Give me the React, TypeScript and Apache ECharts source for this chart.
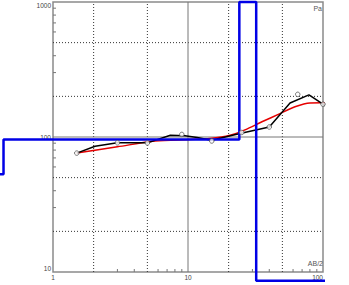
import React, { useEffect, useRef } from "react";
import * as echarts from "echarts";

// Measured apparent resistivity (circles)
const measuredAB = [1.5, 3, 5, 9, 15, 25, 40, 65, 100];
const measuredRho = [76, 90.5, 90.3, 104.5, 93.4, 108, 118.6, 207, 175];

// Field curve (black)
const fieldAB = [1.5, 2.05, 3, 5, 7.4, 9.5, 11.7, 14.9, 24.3, 40, 57, 78.7, 100, 109.5];
const fieldRho = [76, 85.3, 90.6, 90.5, 103, 102, 99, 94.5, 106, 118.6, 178.6, 205, 175, 165];

// Model curve (red)
const modelAB = [1.5, 3, 5.7, 10.35, 14.55, 20.5, 26.4, 35.3, 48, 62, 80.1, 97.9, 110.8];
const modelRho = [76, 84.6, 93.4, 95.8, 97.5, 103, 113, 129.6, 149, 167.4, 178.6, 179, 178.6];

// Layered model (blue)
const layerRho = [53, 96, 1000, 8.6];
const layerDepth = [0.43, 24, 32];
const layerStart = 0.405;
const layerEnd = 200;

// Grid / tick values
const xDotted = [2, 5, 20, 50];
const xSolid = [10];
const yDotted = [20, 50, 200, 500];
const ySolid = [100];
const xMinor = [3, 4, 6, 7, 8, 9, 30, 40, 60, 70, 80, 90];
const yMinor = [30, 40, 60, 70, 80, 90, 300, 400, 600, 700, 800, 900];

const X_MIN = 1, X_MAX = 100, Y_MIN = 10, Y_MAX = 1000;

export default function App() {
  const ref = useRef<HTMLDivElement>(null);
  useEffect(() => {
    if (!ref.current) return;
    const chart = echarts.init(ref.current, undefined, { renderer: "svg" });

    const pair = (xs: number[], ys: number[]) => xs.map((x, i) => [x, ys[i]]);
    const blue: number[][] = [];
    let x0 = layerStart;
    layerRho.forEach((r, i) => {
      const x1 = i < layerDepth.length ? layerDepth[i] : layerEnd;
      blue.push([x0, r]);
      blue.push([x1, r]);
      x0 = x1;
    });

    const font = "'Liberation Sans', Arial, sans-serif";
    const plotLeft = 53, plotRight = 26, plotTop = 2, plotBottom = 13;
    const plotW = 349 - plotLeft - plotRight;
    const decadePx = plotW / Math.log10(X_MAX / X_MIN);
    // hidden axis spanning the whole width left of the plot, same scale
    const extMin = X_MIN * Math.pow(10, -plotLeft / decadePx);

    const hiddenAxis = {
      axisLine: { show: false },
      axisTick: { show: false },
      splitLine: { show: false },
      axisLabel: { show: false },
    };

    chart.setOption({
      animation: false,
      grid: [
        {
          left: plotLeft,
          right: plotRight,
          top: plotTop,
          bottom: plotBottom,
          show: true,
          borderColor: "#8a8a8a",
          borderWidth: 1.5,
          backgroundColor: "transparent",
        },
        {
          left: 0,
          right: plotRight,
          top: plotTop,
          bottom: plotBottom,
        },
      ],
      xAxis: [
        {
          type: "log",
          gridIndex: 0,
          logBase: 10,
          min: X_MIN,
          max: X_MAX,
          axisLine: { show: false },
          axisTick: { show: false },
          splitLine: { show: false },
          axisLabel: {
            fontSize: 6.5,
            color: "#444",
            margin: 2,
            fontFamily: font,
            alignMaxLabel: "right",
            formatter: (v: number) => String(v),
          },
        },
        { type: "log", gridIndex: 1, logBase: 10, min: extMin, max: X_MAX, ...hiddenAxis },
      ],
      yAxis: [
        {
          type: "log",
          gridIndex: 0,
          logBase: 10,
          min: Y_MIN,
          max: Y_MAX,
          axisLine: { show: false },
          axisTick: { show: false },
          splitLine: { show: false },
          axisLabel: {
            fontSize: 6.5,
            color: "#444",
            margin: 2,
            fontFamily: font,
            verticalAlignMaxLabel: "top",
            verticalAlignMinLabel: "bottom",
            formatter: (v: number) => String(v),
          },
        },
        { type: "log", gridIndex: 1, logBase: 10, min: Y_MIN, max: Y_MAX, ...hiddenAxis },
      ],
      graphic: [
        {
          type: "text",
          right: 27,
          top: 4.5,
          style: { text: "Pa", fontSize: 7, fill: "#555", fontFamily: font },
        },
        {
          type: "text",
          right: 26,
          top: 259.5,
          style: { text: "AB/2", fontSize: 7, fill: "#555", fontFamily: font },
        },
      ],
      series: [
        {
          type: "custom",
          z: 1,
          silent: true,
          clip: false,
          data: [[X_MIN, Y_MIN]],
          renderItem: (params: any, api: any) => {
            const children: any[] = [];
            const c = (x: number, y: number) => api.coord([x, y]);
            const ln = (a: number[], b: number[], style: any) =>
              children.push({
                type: "line",
                shape: { x1: a[0], y1: a[1], x2: b[0], y2: b[1] },
                style,
              });
            const dotted = { stroke: "#333", lineWidth: 1, lineDash: [1, 2] };
            const solid = { stroke: "#777", lineWidth: 1 };
            const tick = { stroke: "#777", lineWidth: 1 };
            xDotted.forEach((v) => ln(c(v, Y_MIN), c(v, Y_MAX), dotted));
            yDotted.forEach((v) => ln(c(X_MIN, v), c(X_MAX, v), dotted));
            xSolid.forEach((v) => ln(c(v, Y_MIN), c(v, Y_MAX), solid));
            ySolid.forEach((v) => ln(c(X_MIN, v), c(X_MAX, v), solid));
            xMinor.forEach((v) => {
              const p = c(v, Y_MIN);
              ln(p, [p[0], p[1] - 3], tick);
            });
            yMinor.forEach((v) => {
              const p = c(X_MIN, v);
              ln(p, [p[0] + 3, p[1]], tick);
            });
            return { type: "group", children };
          },
        },
        {
          type: "line",
          z: 3,
          clip: false,
          smooth: 0.3,
          showSymbol: false,
          data: pair(modelAB, modelRho),
          lineStyle: { color: "#e60000", width: 1.5 },
        },
        {
          type: "line",
          z: 4,
          clip: false,
          showSymbol: false,
          data: pair(fieldAB, fieldRho),
          lineStyle: { color: "#000", width: 1.5 },
        },
        {
          type: "line",
          z: 5,
          xAxisIndex: 1,
          yAxisIndex: 1,
          clip: false,
          showSymbol: false,
          data: blue,
          lineStyle: { color: "#0000e6", width: 2.5 },
        },
        {
          type: "scatter",
          z: 6,
          clip: false,
          symbol: "circle",
          symbolSize: 4.5,
          data: pair(measuredAB, measuredRho),
          itemStyle: { color: "#fff", borderColor: "#555", borderWidth: 1 },
        },
      ],
    });
    return () => chart.dispose();
  }, []);
  return (
    <div
      ref={ref}
      style={{ position: "absolute", left: 0, top: 0, width: 349, height: 285 }}
    />
  );
}
